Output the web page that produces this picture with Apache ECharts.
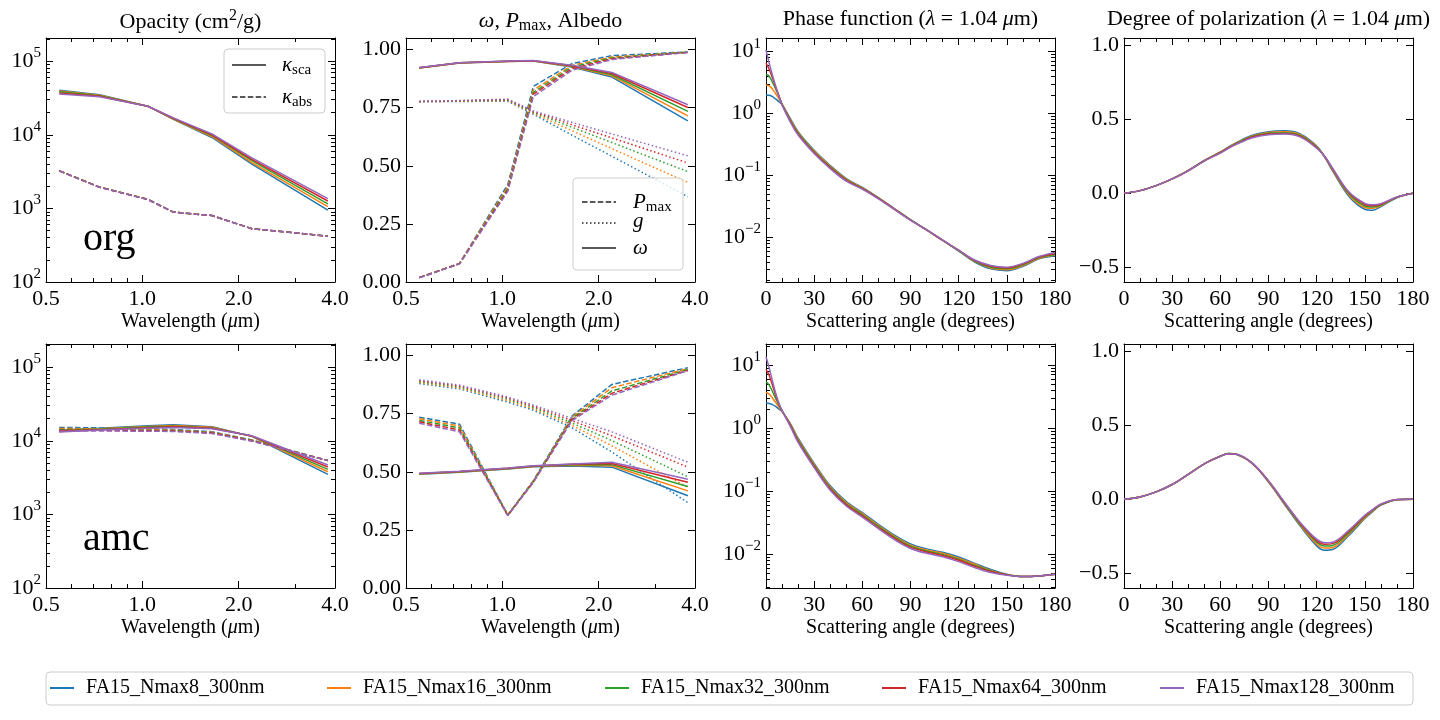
<!DOCTYPE html>
<html lang="en">
<head>
<meta charset="utf-8">
<title>Optical properties of aggregates</title>
<script src="https://cdn.jsdelivr.net/npm/echarts@6.0.0/dist/echarts.min.js"></script>
<style>
  * { margin: 0; padding: 0; }
  #chart { width: 1440px; height: 720px; }
</style>
</head>
<body>
<div id="chart"></div>
<script>
var names = ['FA15_Nmax8_300nm', 'FA15_Nmax16_300nm', 'FA15_Nmax32_300nm', 'FA15_Nmax64_300nm', 'FA15_Nmax128_300nm'];
var colors = ['#1f77b4', '#ff7f0e', '#2ca02c', '#d62728', '#9467bd'];

var wavelengths = [0.55, 0.735, 1.04, 1.25, 1.65, 2.2, 3.8];
var phaseAngles = [0, 2, 4, 6, 8, 10, 15, 20, 30, 40, 50, 60, 70, 80, 90, 100, 110, 120, 130, 140, 150, 160, 170, 180];
var polAngles = [0, 10, 20, 30, 40, 50, 60, 65, 70, 80, 90, 100, 110, 120, 125, 130, 140, 150, 155, 160, 170, 180];

// ---- org ----
var orgKsca = [
  [4.05e4, 3.50e4, 2.45e4, 1.62e4, 9.2e3, 4.00e3, 9.5e2],
  [3.95e4, 3.45e4, 2.45e4, 1.64e4, 9.5e3, 4.20e3, 1.06e3],
  [3.85e4, 3.40e4, 2.45e4, 1.66e4, 9.8e3, 4.45e3, 1.15e3],
  [3.70e4, 3.35e4, 2.45e4, 1.68e4, 1.00e4, 4.65e3, 1.26e3],
  [3.60e4, 3.30e4, 2.45e4, 1.70e4, 1.03e4, 4.85e3, 1.36e3]
];
var orgKabs = [
  [3.25e3, 1.95e3, 1.33e3, 8.9e2, 8.0e2, 5.3e2, 4.2e2],
  [3.25e3, 1.95e3, 1.33e3, 8.9e2, 8.0e2, 5.3e2, 4.2e2],
  [3.24e3, 1.95e3, 1.33e3, 8.9e2, 8.0e2, 5.3e2, 4.2e2],
  [3.24e3, 1.94e3, 1.32e3, 8.9e2, 8.0e2, 5.3e2, 4.2e2],
  [3.23e3, 1.94e3, 1.32e3, 8.9e2, 8.0e2, 5.3e2, 4.2e2]
];
var orgPmax = [
  [0.019, 0.080, 0.420, 0.842, 0.940, 0.974, 0.990],
  [0.019, 0.080, 0.410, 0.826, 0.932, 0.968, 0.989],
  [0.019, 0.079, 0.402, 0.816, 0.925, 0.964, 0.989],
  [0.019, 0.079, 0.396, 0.808, 0.918, 0.961, 0.988],
  [0.018, 0.078, 0.390, 0.798, 0.911, 0.957, 0.988]
];
var orgG = [
  [0.775, 0.777, 0.778, 0.722, 0.632, 0.541, 0.367],
  [0.776, 0.778, 0.781, 0.726, 0.651, 0.574, 0.428],
  [0.777, 0.779, 0.783, 0.730, 0.666, 0.600, 0.475],
  [0.777, 0.780, 0.785, 0.733, 0.677, 0.620, 0.512],
  [0.778, 0.781, 0.787, 0.736, 0.687, 0.637, 0.543]
];
var orgOmega = [
  [0.921, 0.942, 0.949, 0.951, 0.925, 0.882, 0.693],
  [0.921, 0.942, 0.949, 0.951, 0.927, 0.887, 0.715],
  [0.922, 0.943, 0.950, 0.952, 0.929, 0.892, 0.734],
  [0.922, 0.943, 0.950, 0.952, 0.931, 0.897, 0.751],
  [0.923, 0.944, 0.951, 0.953, 0.933, 0.902, 0.763]
];
var orgPhase = [
  [2.0, 1.97, 1.88, 1.72, 1.55, 1.40, 0.84, 0.51, 0.255, 0.145, 0.089, 0.064, 0.044, 0.0292, 0.0193, 0.0133, 0.0090, 0.0060, 0.0040, 0.0031, 0.0029, 0.0034, 0.0045, 0.0050],
  [2.9, 2.8, 2.5, 2.1, 1.75, 1.42, 0.815, 0.495, 0.247, 0.141, 0.087, 0.063, 0.0435, 0.0289, 0.0192, 0.0132, 0.0089, 0.0061, 0.0041, 0.0032, 0.0030, 0.0035, 0.0046, 0.0052],
  [4.3, 4.0, 3.2, 2.5, 1.9, 1.42, 0.79, 0.48, 0.240, 0.137, 0.085, 0.062, 0.043, 0.0286, 0.0191, 0.0132, 0.0089, 0.0061, 0.0041, 0.0033, 0.0031, 0.0036, 0.0047, 0.0053],
  [6.5, 5.2, 3.8, 2.7, 1.95, 1.40, 0.765, 0.465, 0.233, 0.133, 0.083, 0.061, 0.0425, 0.0284, 0.0190, 0.0132, 0.0090, 0.0062, 0.0042, 0.0034, 0.0032, 0.0037, 0.0048, 0.0055],
  [10.6, 6.5, 4.2, 2.8, 1.95, 1.38, 0.74, 0.45, 0.226, 0.129, 0.081, 0.060, 0.042, 0.0282, 0.0189, 0.0132, 0.0090, 0.0062, 0.0043, 0.0035, 0.0033, 0.0038, 0.0049, 0.0057]
];
var orgPol = [
  [0, 0.018, 0.052, 0.097, 0.155, 0.222, 0.280, 0.312, 0.343, 0.392, 0.416, 0.422, 0.400, 0.320, 0.245, 0.150, -0.020, -0.108, -0.115, -0.090, -0.030, 0],
  [0, 0.018, 0.052, 0.097, 0.154, 0.221, 0.278, 0.310, 0.340, 0.388, 0.411, 0.416, 0.395, 0.316, 0.247, 0.155, -0.010, -0.096, -0.102, -0.084, -0.028, 0],
  [0, 0.018, 0.052, 0.097, 0.153, 0.220, 0.276, 0.308, 0.337, 0.384, 0.406, 0.410, 0.390, 0.312, 0.248, 0.160, -0.002, -0.086, -0.093, -0.079, -0.027, 0],
  [0, 0.018, 0.052, 0.097, 0.152, 0.219, 0.274, 0.306, 0.334, 0.380, 0.401, 0.405, 0.385, 0.308, 0.249, 0.164, 0.005, -0.076, -0.085, -0.074, -0.026, 0],
  [0, 0.018, 0.052, 0.097, 0.151, 0.218, 0.272, 0.304, 0.331, 0.376, 0.396, 0.400, 0.380, 0.305, 0.250, 0.168, 0.010, -0.068, -0.078, -0.070, -0.025, 0]
];

// ---- amc ----
var amcKsca = [
  [1.40e4, 1.48e4, 1.60e4, 1.65e4, 1.55e4, 1.15e4, 3.5e3],
  [1.38e4, 1.46e4, 1.57e4, 1.62e4, 1.53e4, 1.15e4, 3.8e3],
  [1.36e4, 1.44e4, 1.54e4, 1.58e4, 1.50e4, 1.16e4, 4.1e3],
  [1.34e4, 1.42e4, 1.51e4, 1.55e4, 1.48e4, 1.16e4, 4.4e3],
  [1.32e4, 1.40e4, 1.48e4, 1.52e4, 1.46e4, 1.17e4, 4.7e3]
];
var amcKabs = [
  [1.52e4, 1.50e4, 1.45e4, 1.43e4, 1.33e4, 1.03e4, 5.4e3],
  [1.47e4, 1.46e4, 1.42e4, 1.40e4, 1.31e4, 1.02e4, 5.4e3],
  [1.43e4, 1.42e4, 1.39e4, 1.38e4, 1.29e4, 1.01e4, 5.4e3],
  [1.39e4, 1.39e4, 1.37e4, 1.36e4, 1.28e4, 1.00e4, 5.4e3],
  [1.35e4, 1.36e4, 1.35e4, 1.34e4, 1.26e4, 0.99e4, 5.4e3]
];
var amcPmax = [
  [0.735, 0.705, 0.315, 0.462, 0.740, 0.876, 0.948],
  [0.728, 0.697, 0.314, 0.460, 0.735, 0.862, 0.944],
  [0.721, 0.689, 0.313, 0.458, 0.730, 0.848, 0.940],
  [0.715, 0.680, 0.312, 0.456, 0.725, 0.838, 0.937],
  [0.709, 0.672, 0.311, 0.454, 0.720, 0.830, 0.935]
];
var amcG = [
  [0.880, 0.857, 0.800, 0.765, 0.690, 0.585, 0.367],
  [0.884, 0.861, 0.806, 0.771, 0.700, 0.612, 0.433],
  [0.888, 0.865, 0.812, 0.777, 0.710, 0.634, 0.479],
  [0.892, 0.869, 0.817, 0.782, 0.720, 0.655, 0.520],
  [0.896, 0.873, 0.822, 0.787, 0.730, 0.672, 0.541]
];
var amcOmega = [
  [0.490, 0.498, 0.512, 0.522, 0.525, 0.520, 0.397],
  [0.491, 0.499, 0.513, 0.523, 0.528, 0.526, 0.418],
  [0.492, 0.500, 0.514, 0.524, 0.530, 0.531, 0.437],
  [0.493, 0.501, 0.515, 0.525, 0.532, 0.536, 0.455],
  [0.494, 0.502, 0.516, 0.526, 0.534, 0.541, 0.468]
];
var amcPhase = [
  [2.5, 2.45, 2.35, 2.2, 2.0, 1.82, 1.20, 0.69, 0.275, 0.121, 0.068, 0.0454, 0.0297, 0.0200, 0.0145, 0.0121, 0.0107, 0.0090, 0.0071, 0.0057, 0.0048, 0.0044, 0.0045, 0.0048],
  [3.65, 3.45, 3.0, 2.55, 2.15, 1.85, 1.17, 0.665, 0.265, 0.1165, 0.0655, 0.0437, 0.0286, 0.0192, 0.0139, 0.0116, 0.0103, 0.0086, 0.0069, 0.0055, 0.0047, 0.0044, 0.0045, 0.0048],
  [5.4, 4.8, 3.8, 2.95, 2.3, 1.87, 1.14, 0.64, 0.255, 0.112, 0.063, 0.042, 0.0275, 0.0185, 0.0134, 0.0112, 0.0099, 0.0083, 0.0066, 0.0054, 0.0047, 0.0044, 0.0045, 0.0048],
  [8.5, 6.8, 4.8, 3.3, 2.4, 1.88, 1.11, 0.615, 0.245, 0.1075, 0.0605, 0.0403, 0.0264, 0.0178, 0.0129, 0.0108, 0.0095, 0.0080, 0.0064, 0.0053, 0.0047, 0.0044, 0.0045, 0.0048],
  [13.5, 9.0, 5.6, 3.6, 2.5, 1.9, 1.08, 0.59, 0.235, 0.103, 0.058, 0.0386, 0.0253, 0.0170, 0.0123, 0.0103, 0.0091, 0.0076, 0.0061, 0.0051, 0.0046, 0.0044, 0.0045, 0.0048]
];
var amcPol = [
  [0, 0.016, 0.050, 0.100, 0.169, 0.240, 0.292, 0.310, 0.304, 0.240, 0.117, -0.035, -0.185, -0.315, -0.345, -0.340, -0.245, -0.130, -0.082, -0.040, -0.003, 0],
  [0, 0.016, 0.050, 0.100, 0.169, 0.240, 0.292, 0.310, 0.304, 0.241, 0.119, -0.031, -0.178, -0.302, -0.330, -0.326, -0.236, -0.124, -0.078, -0.038, -0.003, 0],
  [0, 0.016, 0.050, 0.100, 0.169, 0.240, 0.291, 0.309, 0.304, 0.242, 0.121, -0.027, -0.171, -0.290, -0.316, -0.312, -0.227, -0.118, -0.074, -0.036, -0.003, 0],
  [0, 0.016, 0.050, 0.100, 0.168, 0.239, 0.291, 0.308, 0.304, 0.243, 0.123, -0.023, -0.165, -0.280, -0.304, -0.300, -0.218, -0.113, -0.071, -0.034, -0.002, 0],
  [0, 0.016, 0.050, 0.100, 0.168, 0.239, 0.290, 0.307, 0.304, 0.244, 0.125, -0.020, -0.160, -0.270, -0.294, -0.290, -0.210, -0.108, -0.068, -0.032, -0.002, 0]
];

var F = 'Liberation Serif';
var colLeft = [46, 406, 766, 1124];
var rowTop = [38, 344];
var W = 289, H = 244;

var DASH = [5.5, 2.4], DOT = [1.5, 2.5];

function minorLog(lo, hi) {
  var out = [];
  for (var e = -4; e <= 6; e++) {
    for (var k = 2; k <= 9; k++) {
      var v = k * Math.pow(10, e);
      if (v > lo && v < hi) out.push(v);
    }
  }
  return out;
}
function pow10Label(v) {
  var e = Math.round(Math.log10(v));
  return '{b|10}{s|' + (e < 0 ? '\u2212' : '') + Math.abs(e) + '}';
}
var labelRich = {
  b: { fontFamily: F, fontSize: 22, color: '#000' },
  s: { fontFamily: F, fontSize: 15, color: '#000', padding: [0, 0, 16, 0] }
};

var wlAxis = { type: 'log', min: 0.5, max: 4, logBase: 2, majors: [0.5, 1, 2, 4], minors: [0.6, 0.7, 0.8, 0.9, 3],
  fmt: function (v) { return v.toFixed(1); }, name: 'Wavelength ({i|\u03bc}m)' };
var angAxis = { type: 'value', min: 0, max: 180, interval: 30, minorSplit: 3,
  fmt: function (v) { return String(v); }, name: 'Scattering angle (degrees)' };
var opacAxis = { type: 'log', min: 100, max: 2.07e5, majors: [1e2, 1e3, 1e4, 1e5], minors: minorLog(100, 2.07e5), fmt: pow10Label };
var albAxis = { type: 'value', min: 0, max: 1.05, majors: [0, 0.25, 0.5, 0.75, 1], fmt: function (v) { return v.toFixed(2); } };
var polAxis = { type: 'value', min: -0.6, max: 1.05, majors: [-0.5, 0, 0.5, 1],
  fmt: function (v) { return (v < 0 ? '\u2212' : '') + Math.abs(v).toFixed(1); } };
var phOrgAxis = { type: 'log', min: 1.9e-3, max: 16.6, majors: [1e-2, 1e-1, 1, 10], minors: minorLog(1.9e-3, 16.6), fmt: pow10Label };
var phAmcAxis = { type: 'log', min: 2.9e-3, max: 21.5, majors: [1e-2, 1e-1, 1, 10], minors: minorLog(2.9e-3, 21.5), fmt: pow10Label };

var option = {
  animation: false,
  color: colors,
  title: [],
  grid: [],
  xAxis: [],
  yAxis: [],
  series: [],
  legend: [],
  graphic: []
};

function baseAxis(spec, gi, pos) {
  var ax = { type: spec.type, gridIndex: gi, position: pos, min: spec.min, max: spec.max, silent: true,
    splitLine: { show: false } };
  if (spec.logBase) ax.logBase = spec.logBase;
  if (spec.interval) ax.interval = spec.interval;
  return ax;
}

// main axis + mirrored axis (ticks on all four sides), plus extra axes carrying log minor ticks
function addAxes(list, spec, gi, dim) {
  var prim = dim === 'x' ? 'bottom' : 'left';
  var mirr = dim === 'x' ? 'top' : 'right';
  var first = list.length;
  [prim, mirr].forEach(function (pos, k) {
    var ax = baseAxis(spec, gi, pos);
    ax.axisLine = { show: true, onZero: false, lineStyle: { color: '#000', width: 1 } };
    ax.axisTick = { show: true, inside: true, length: 7, lineStyle: { color: '#000', width: 1 } };
    if (spec.majors) ax.axisTick.customValues = spec.majors;
    if (spec.minorSplit) ax.minorTick = { show: true, splitNumber: spec.minorSplit, length: 4, lineStyle: { color: '#000', width: 1 } };
    ax.axisLabel = { show: k === 0, fontFamily: F, fontSize: 22, color: '#000', margin: dim === 'x' ? 6 : 5,
      formatter: spec.fmt, rich: labelRich, showMinLabel: true, showMaxLabel: true };
    if (spec.majors) ax.axisLabel.customValues = spec.majors;
    if (k === 0 && spec.name) {
      ax.name = spec.name;
      ax.nameLocation = 'middle';
      ax.nameGap = 30;
      ax.nameTextStyle = { fontFamily: F, fontSize: 20, color: '#000', verticalAlign: 'top',
        rich: { i: { fontFamily: F, fontSize: 20, color: '#000', fontStyle: 'italic' } } };
    }
    list.push(ax);
  });
  if (spec.minors) {
    [prim, mirr].forEach(function (pos) {
      var ax = baseAxis(spec, gi, pos);
      ax.axisLine = { show: false, onZero: false };
      ax.axisTick = { show: true, inside: true, length: 4, customValues: spec.minors, lineStyle: { color: '#000', width: 1 } };
      ax.axisLabel = { show: false };
      list.push(ax);
    });
  }
  return first;
}

// groups: [[data for 5 models, dash], ...]; drawn model by model so later models sit on top
function linesFor(xi, yi, xs, groups, smooth) {
  for (var i = 0; i < 5; i++) {
    groups.forEach(function (g) {
      option.series.push({
        type: 'line', name: names[i], xAxisIndex: xi, yAxisIndex: yi,
        data: xs.map(function (x, j) { return [x, g[0][i][j]]; }),
        showSymbol: false, symbol: 'none', smooth: smooth || false, silent: true,
        itemStyle: { color: colors[i] },
        lineStyle: { color: colors[i], width: 1.5, type: g[1] }
      });
    });
  }
}

var rows = [
  { ksca: orgKsca, kabs: orgKabs, pmax: orgPmax, g: orgG, omega: orgOmega, phase: orgPhase, pol: orgPol, phAxis: phOrgAxis },
  { ksca: amcKsca, kabs: amcKabs, pmax: amcPmax, g: amcG, omega: amcOmega, phase: amcPhase, pol: amcPol, phAxis: phAmcAxis }
];

rows.forEach(function (r, ri) {
  var specs = [[wlAxis, opacAxis], [wlAxis, albAxis], [angAxis, r.phAxis], [angAxis, polAxis]];
  specs.forEach(function (s, ci) {
    var gi = option.grid.length;
    option.grid.push({ left: colLeft[ci], top: rowTop[ri], width: W, height: H, containLabel: false, outerBoundsMode: 'none' });
    var xi = addAxes(option.xAxis, s[0], gi, 'x');
    var yi = addAxes(option.yAxis, s[1], gi, 'y');
    if (ci === 0) linesFor(xi, yi, wavelengths, [[r.ksca, 'solid'], [r.kabs, DASH]]);
    if (ci === 1) linesFor(xi, yi, wavelengths, [[r.pmax, DASH], [r.g, DOT], [r.omega, 'solid']]);
    if (ci === 2) linesFor(xi, yi, phaseAngles, [[r.phase, 'solid']], 0.35);
    if (ci === 3) linesFor(xi, yi, polAngles, [[r.pol, 'solid']], 0.35);
  });
});

// panel titles
var titleRich = {
  i: { fontFamily: F, fontSize: 22, fontStyle: 'italic', color: '#000' },
  sub: { fontFamily: F, fontSize: 16, color: '#000', padding: [10, 0, 0, 0] },
  sup: { fontFamily: F, fontSize: 16, color: '#000', padding: [0, 0, 12, 0] }
};
var titles = [
  'Opacity (cm{sup|2}/g)',
  '{i|\u03c9}, {i|P}{sub|max}, Albedo',
  'Phase function ({i|\u03bb} = 1.04 {i|\u03bc}m)',
  'Degree of polarization ({i|\u03bb} = 1.04 {i|\u03bc}m)'
];
titles.forEach(function (t, ci) {
  option.title.push({
    text: t, left: colLeft[ci] + W / 2, top: 8, textAlign: 'center', padding: 0,
    textStyle: { fontFamily: F, fontSize: 22, fontWeight: 'normal', color: '#000', rich: titleRich }
  });
});

// bottom legend, one entry per column like an expanded five-column legend
var legLeft = [50, 327, 605, 882, 1160];
names.forEach(function (n, i) {
  option.legend.push({
    data: [n], left: legLeft[i], top: 678, padding: 0, selectedMode: false,
    icon: 'rect', itemWidth: 24, itemHeight: 2,
    textStyle: { fontFamily: F, fontSize: 20, color: '#000', padding: [0, 0, 0, 7] }
  });
});

var kRich = {
  i: { fontFamily: F, fontSize: 21, fontStyle: 'italic', fill: '#000' },
  s: { fontFamily: F, fontSize: 15, fill: '#000', padding: [10, 0, 0, 0] }
};
function legLine(x1, y, dash) {
  return { type: 'line', shape: { x1: x1, y1: y, x2: x1 + 34, y2: y }, z: 100,
    style: { stroke: '#222', lineWidth: 1.5, lineDash: dash } };
}
function legText(x, y, txt) {
  return { type: 'text', x: x, y: y, z: 100,
    style: { text: txt, rich: kRich, font: '21px "' + F + '"', fill: '#000', verticalAlign: 'middle' } };
}
option.graphic = [
  { type: 'rect', shape: { x: 46, y: 672, width: 1367, height: 33, r: 4 }, z: 0,
    style: { fill: 'rgba(255,255,255,0.8)', stroke: '#cccccc', lineWidth: 1 } },
  // opacity legend (org)
  { type: 'rect', shape: { x: 224, y: 49, width: 101, height: 64, r: 4 }, z: 99,
    style: { fill: 'rgba(255,255,255,0.8)', stroke: '#cccccc', lineWidth: 1 } },
  legLine(232, 65, null),
  legText(282, 65, '{i|\u03ba}{s|sca}'),
  legLine(232, 97, DASH),
  legText(282, 97, '{i|\u03ba}{s|abs}'),
  // albedo legend (org)
  { type: 'rect', shape: { x: 573, y: 178, width: 110, height: 92, r: 4 }, z: 99,
    style: { fill: 'rgba(255,255,255,0.8)', stroke: '#cccccc', lineWidth: 1 } },
  legLine(582, 202, DASH),
  legText(633, 202, '{i|P}{s|max}'),
  legLine(582, 223, DOT),
  legText(633, 221, '{i|g}'),
  legLine(582, 248, null),
  legText(633, 248, '{i|\u03c9}'),
  // material labels
  { type: 'text', x: 83, y: 239, z: 100, style: { text: 'org', font: '40px "' + F + '"', fill: '#000', verticalAlign: 'middle' } },
  { type: 'text', x: 83, y: 539, z: 100, style: { text: 'amc', font: '40px "' + F + '"', fill: '#000', verticalAlign: 'middle' } }
];

var chart = echarts.init(document.getElementById('chart'), null, { renderer: 'canvas' });
chart.setOption(option);
window.addEventListener('resize', chart.resize);
</script>
</body>
</html>
